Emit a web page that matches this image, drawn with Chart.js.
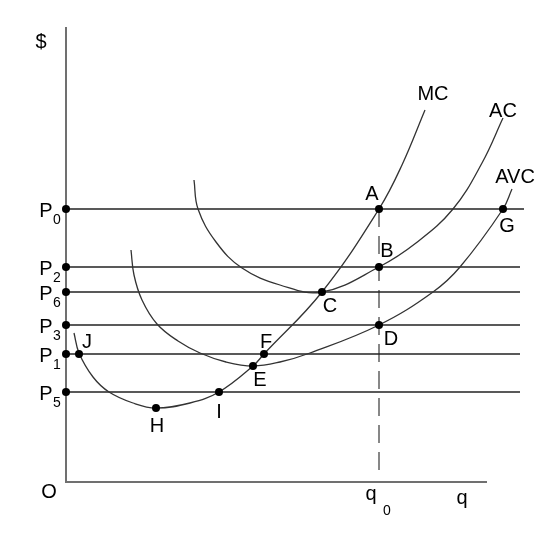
<!DOCTYPE html>
<html>
<head>
<meta charset="utf-8">
<script src="https://cdn.jsdelivr.net/npm/chart.js@4/dist/chart.umd.min.js"></script>
<style>
html,body{margin:0;padding:0;background:#fff;}
canvas{display:block;}
</style>
</head>
<body>
<canvas id="c" width="560" height="536"></canvas>
<script>
// ---- data (quantity q, price $) ----
const axisQMax = 421;          // length of q axis
const axisPMax = 455;          // length of $ axis
const priceNames  = ['0','2','6','3','1','5'];
const priceValues = [273, 215, 190, 157, 128, 90];
const priceLineEnd = [458, 454, 454, 454, 454, 454];
const q0 = 313;

const mcQ = [8, 13, 27, 43, 67, 90, 124, 153, 187, 198, 256, 313, 336, 359];
const mcP = [149, 129, 105, 90, 79, 74, 79, 90, 116, 128, 190, 273, 317, 372];

const acQ = [128, 132, 150, 176, 214, 256, 313, 350, 387, 416, 437];
const acP = [302, 273, 240, 214, 197, 190, 215, 239, 273, 319, 364];

const avcQ = [65, 68, 76, 91, 112, 134, 160, 187, 214, 244, 313, 367, 394, 437, 446];
const avcP = [232, 207, 182, 158, 141, 129, 120, 116, 120, 129, 157, 190, 215, 273, 293];

const pointNames = ['A','B','C','D','E','F','G','H','I','J'];
const pointQ = [313, 313, 256, 313, 187, 198, 437, 90, 153, 13];
const pointP = [273, 215, 190, 157, 116, 128, 273, 74, 90, 128];

// ---- annotation texts (text, q, $ baseline) ----
const labels = [
  ['$', -25, 434], ['MC', 367, 382], ['AC', 437, 365], ['AVC', 449, 299],
  ['A', 306, 282], ['G', 441, 250], ['B', 321, 225], ['C', 264, 170],
  ['D', 325, 137], ['F', 200, 134], ['E', 194, 96], ['I', 153, 64],
  ['H', 91, 50], ['J', 21, 134], ['O', -17, -16], ['q', 305, -18], ['q', 396, -22]
];
const subLabels = [['0', 321, -33]];

const zip = (xs, ys) => xs.map((x, i) => ({x: x, y: ys[i]}));
const lineColor = '#222';
const curveColor = '#333';

const datasets = [];
// points (drawn on top)
datasets.push({
  data: zip(pointQ, pointP).concat(priceValues.map(p => ({x: 0, y: p}))),
  showLine: false, pointRadius: 4, pointBackgroundColor: '#000', pointBorderWidth: 0, clip: false
});
// curves
[[mcQ, mcP], [acQ, acP], [avcQ, avcP]].forEach(([xs, ys]) => {
  datasets.push({
    data: zip(xs, ys), showLine: true, pointRadius: 0, borderColor: curveColor,
    borderWidth: 1.3, tension: 0.4, clip: false
  });
});
// price lines
priceValues.forEach((p, i) => {
  datasets.push({
    data: [{x: 0, y: p}, {x: priceLineEnd[i], y: p}], showLine: true, pointRadius: 0,
    borderColor: lineColor, borderWidth: 1.3, clip: false
  });
});
// q0 dashed
datasets.push({
  data: [{x: q0, y: pointP[0]}, {x: q0, y: 7}], showLine: true, pointRadius: 0,
  borderColor: '#555', borderWidth: 1.4, borderDash: [18, 9], clip: false
});
// axes
datasets.push({
  data: [{x: 0, y: axisPMax}, {x: 0, y: 0}, {x: axisQMax, y: 0}], showLine: true, pointRadius: 0,
  borderColor: '#707070', borderWidth: 2, clip: false
});

const textPlugin = {
  id: 'texts',
  afterDraw(chart) {
    const ctx = chart.ctx, xs = chart.scales.x, ys = chart.scales.y;
    ctx.save();
    ctx.fillStyle = '#000';
    ctx.textAlign = 'center';
    ctx.textBaseline = 'alphabetic';
    ctx.font = '20px "Liberation Sans", Arial, sans-serif';
    labels.forEach(([t, q, p]) => ctx.fillText(t, xs.getPixelForValue(q), ys.getPixelForValue(p)));
    priceValues.forEach((p) => {
      ctx.fillText('P', xs.getPixelForValue(-20), ys.getPixelForValue(p - 7.5));
    });
    ctx.font = '14px "Liberation Sans", Arial, sans-serif';
    priceValues.forEach((p, i) => {
      ctx.fillText(priceNames[i], xs.getPixelForValue(-9), ys.getPixelForValue(p - 14.5));
    });
    subLabels.forEach(([t, q, p]) => ctx.fillText(t, xs.getPixelForValue(q), ys.getPixelForValue(p)));
    ctx.restore();
  }
};

new Chart(document.getElementById('c'), {
  type: 'scatter',
  data: {datasets: datasets},
  options: {
    responsive: false, animation: false, devicePixelRatio: 1,
    layout: {padding: {left: 66, right: 30, top: 27, bottom: 54}},
    plugins: {legend: {display: false}, tooltip: {enabled: false}},
    scales: {
      x: {type: 'linear', min: 0, max: 464, display: false},
      y: {type: 'linear', min: 0, max: 455, display: false}
    }
  },
  plugins: [textPlugin]
});
</script>
</body>
</html>
